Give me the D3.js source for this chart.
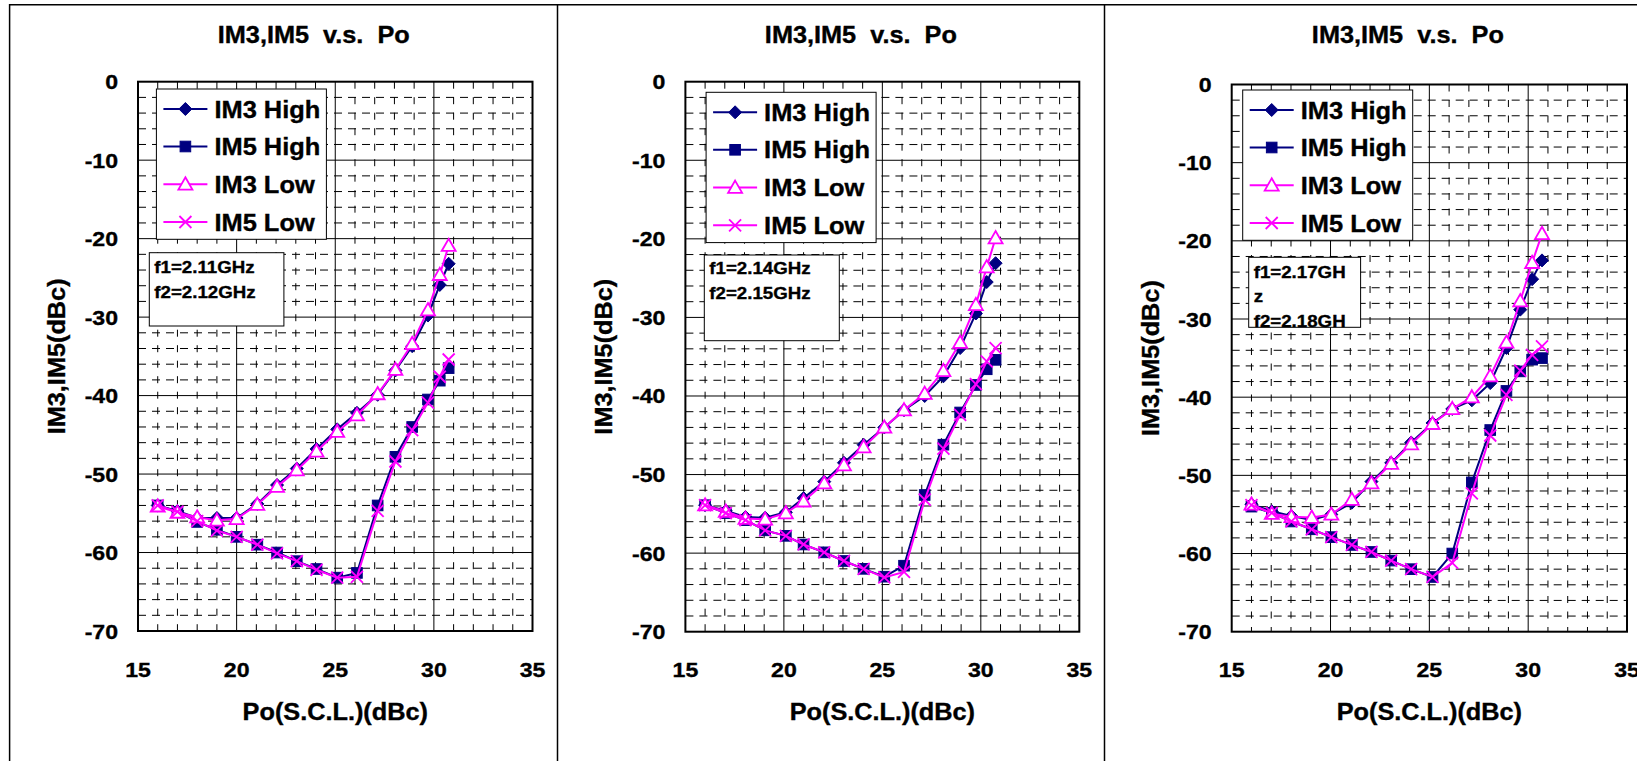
<!DOCTYPE html>
<html><head><meta charset="utf-8">
<script src="https://cdn.jsdelivr.net/npm/d3@7/dist/d3.min.js"></script>
<style>
body{margin:0;background:#fff}
svg{display:block}
text{font-family:"Liberation Sans",Arial,sans-serif;font-weight:bold;fill:#000;stroke:#000;stroke-width:0.35px}
</style></head>
<body><svg id="c" width="1637" height="761"></svg>
<script>
// ---------------- data ----------------
const chartTitle = "IM3,IM5  v.s.  Po";
const xAxisTitle = "Po(S.C.L.)(dBc)";
const yAxisTitle = "IM3,IM5(dBc)";
const seriesNames = ["IM3 High", "IM5 High", "IM3 Low", "IM5 Low"];
const xTicks = [15, 20, 25, 30, 35];
const yTicks = [0, -10, -20, -30, -40, -50, -60, -70];

const freqA = ["f1=2.11GHz", "f2=2.12GHz"];
const freqB = ["f1=2.14GHz", "f2=2.15GHz"];
const freqC = ["f1=2.17GH", "z", "f2=2.18GH"];

const poA    = [16, 17, 18, 19, 20, 21.05, 22.05, 23.05, 24.05, 25.1, 26.1, 27.15, 28.05, 28.9, 29.7, 30.3, 30.75];
const im3HiA = [-54.0, -54.7, -55.6, -55.6, -55.6, -53.8, -51.4, -49.3, -46.8, -44.3, -42.2, -39.9, -36.8, -33.7, -29.8, -25.9, -23.2];
const im5HiA = [-54.0, -54.8, -56.1, -57.1, -58.0, -59.0, -60.0, -61.1, -62.1, -63.2, -62.6, -54.0, -47.8, -44.0, -40.5, -38.1, -36.5];
const im3LoA = [-54.1, -54.9, -55.5, -55.9, -55.7, -53.9, -51.6, -49.5, -47.1, -44.6, -42.5, -39.8, -36.7, -33.4, -29.1, -24.6, -20.9];
const im5LoA = [-54.0, -54.8, -56.0, -57.2, -58.0, -59.0, -60.1, -61.1, -62.2, -63.2, -63.1, -54.7, -48.4, -44.4, -40.9, -37.6, -35.4];

const poB    = [16, 17.05, 18.05, 19.05, 20.1, 21.0, 22.05, 23.05, 24.05, 25.1, 26.1, 27.15, 28.1, 28.95, 29.75, 30.3, 30.75];
const im3HiB = [-53.9, -54.6, -55.4, -55.5, -54.8, -53.0, -50.9, -48.5, -46.2, -44.0, -41.8, -40.0, -37.5, -33.9, -29.5, -25.5, -23.1];
const im5HiB = [-53.9, -54.9, -55.8, -57.1, -57.8, -58.9, -59.9, -61.0, -62.0, -63.0, -61.6, -52.6, -46.2, -42.1, -38.6, -36.6, -35.4];
const im3LoB = [-53.9, -54.7, -55.6, -55.7, -54.9, -53.4, -51.1, -48.8, -46.5, -44.0, -41.8, -39.7, -36.8, -33.2, -28.4, -23.6, -19.9];
const im5LoB = [-53.9, -54.9, -55.8, -57.1, -57.8, -58.9, -59.9, -61.0, -62.0, -63.1, -62.4, -53.2, -46.7, -42.4, -38.5, -35.6, -33.9];

const poC    = [16, 17.03, 18.02, 19.05, 20.04, 21.08, 22.07, 23.07, 24.08, 25.16, 26.16, 27.15, 28.08, 28.9, 29.6, 30.2, 30.7];
const im3HiC = [-53.7, -54.6, -55.2, -55.7, -55.0, -53.5, -50.8, -48.4, -45.8, -43.3, -41.5, -40.4, -38.2, -33.7, -28.8, -24.9, -22.5];
const im5HiC = [-54.0, -54.8, -55.9, -56.9, -57.9, -58.9, -59.8, -60.9, -62.0, -63.0, -60.0, -50.9, -44.2, -39.2, -36.7, -35.2, -35.0];
const im3LoC = [-53.7, -54.9, -55.3, -55.4, -55.0, -53.1, -51.0, -48.5, -46.0, -43.4, -41.5, -40.0, -37.3, -33.0, -27.7, -22.8, -19.1];
const im5LoC = [-53.8, -54.8, -55.9, -56.9, -57.9, -58.9, -59.8, -60.9, -62.0, -63.0, -61.2, -52.3, -44.9, -39.7, -36.6, -34.6, -33.5];

// ---------------- layout ----------------
const NAVY = "#000080", MAG = "#FF00FF";
const panels = [
  {po: poA, s: [im3HiA, im5HiA, im3LoA, im5LoA], freq: freqA,
   plot: {l: 138, r: 532.5, t: 81.7, b: 631}, leg: {x: 156.4, y: 89}, fb: {x: 149.3, y: 252.7, w: 134.6, h: 73.3, dy: [20, 45]}},
  {po: poB, s: [im3HiB, im5HiB, im3LoB, im5LoB], freq: freqB,
   plot: {l: 685.4, r: 1079.3, t: 81.7, b: 631.7}, leg: {x: 706.1, y: 92.3}, fb: {x: 704.3, y: 255, w: 135, h: 85.7, dy: [19, 44]}},
  {po: poC, s: [im3HiC, im5HiC, im3LoC, im5LoC], freq: freqC,
   plot: {l: 1231.7, r: 1627, t: 84.5, b: 631.7}, leg: {x: 1242.7, y: 90}, fb: {x: 1248.7, y: 257.3, w: 111.9, h: 70, dy: [20.4, 44.4, 69.4]}}
];
const seriesStyle = [
  {color: NAVY, marker: "diamond"},
  {color: NAVY, marker: "square"},
  {color: MAG, marker: "triangle"},
  {color: MAG, marker: "x"}
];

const svg = d3.select("#c");

function txt(g, x, y, s, size, anchor, sx, rot) {
  return g.append("text")
    .attr("transform", `translate(${x},${y})${rot ? " rotate(" + rot + ")" : ""} scale(${sx || 1},1)`)
    .attr("font-size", size)
    .attr("text-anchor", anchor || "start")
    .style("white-space", "pre")
    .text(s);
}

function marker(g, type, x, y, color) {
  if (type === "diamond") {
    const r = 6.5;
    g.append("path").attr("d", `M${x},${y - r}L${x + r},${y}L${x},${y + r}L${x - r},${y}Z`)
      .attr("fill", color).attr("stroke", color).attr("stroke-width", 1);
  } else if (type === "square") {
    const r = 5.3;
    g.append("rect").attr("x", x - r).attr("y", y - r).attr("width", 2 * r).attr("height", 2 * r)
      .attr("fill", color).attr("stroke", color).attr("stroke-width", 1);
  } else if (type === "triangle") {
    const r = 7;
    g.append("path").attr("d", `M${x},${y - r}L${x + r},${y + r * 0.75}L${x - r},${y + r * 0.75}Z`)
      .attr("fill", "#fff").attr("stroke", color).attr("stroke-width", 1.8);
  } else {
    const r = 6;
    g.append("path").attr("d", `M${x - r},${y - r}L${x + r},${y + r}M${x - r},${y + r}L${x + r},${y - r}`)
      .attr("fill", "none").attr("stroke", color).attr("stroke-width", 1.8);
  }
}

// outer frames
const frame = svg.append("g").attr("stroke", "#000").attr("stroke-width", 1.5);
frame.append("line").attr("x1", 9).attr("x2", 1637).attr("y1", 4.7).attr("y2", 4.7);
[9.6, 557.5, 1104.5].forEach(x =>
  frame.append("line").attr("x1", x).attr("x2", x).attr("y1", 4).attr("y2", 761));

panels.forEach(p => {
  const g = svg.append("g");
  const x = d3.scaleLinear().domain([15, 35]).range([p.plot.l, p.plot.r]);
  const y = d3.scaleLinear().domain([-70, 0]).range([p.plot.b, p.plot.t]);

  // minor grid
  const minorX = d3.range(16, 35).filter(v => v % 5 !== 0);
  const minorY = d3.range(-68, 0, 2).filter(v => v % 10 !== 0);
  g.append("g").selectAll("line").data(minorY).join("line")
    .attr("x1", x(15)).attr("x2", x(35)).attr("y1", d => y(d)).attr("y2", d => y(d))
    .attr("stroke", "#000").attr("stroke-width", 1).attr("stroke-dasharray", "8,6");
  g.append("g").selectAll("line").data(minorX).join("line")
    .attr("x1", d => x(d)).attr("x2", d => x(d)).attr("y1", y(0)).attr("y2", y(-70))
    .attr("stroke", "#000").attr("stroke-width", 1).attr("stroke-dasharray", "7,8.5");
  // major grid
  g.append("g").selectAll("line").data([20, 25, 30]).join("line")
    .attr("x1", d => x(d)).attr("x2", d => x(d)).attr("y1", y(0)).attr("y2", y(-70))
    .attr("stroke", "#000").attr("stroke-width", 1);
  g.append("g").selectAll("line").data([-10, -20, -30, -40, -50, -60]).join("line")
    .attr("x1", x(15)).attr("x2", x(35)).attr("y1", d => y(d)).attr("y2", d => y(d))
    .attr("stroke", "#000").attr("stroke-width", 1);

  // plot border
  g.append("rect").attr("x", x(15)).attr("y", y(0)).attr("width", x(35) - x(15)).attr("height", y(-70) - y(0))
    .attr("fill", "none").attr("stroke", "#000").attr("stroke-width", 2);

  // axes labels
  yTicks.forEach(v => txt(g, x(15) - 20, y(v) + 7.5, String(v), 21, "end", 1.1));
  xTicks.forEach(v => txt(g, x(v), 677, String(v), 21, "middle", 1.1));
  const cx = (x(15) + x(35)) / 2;
  txt(g, cx - 21.5, 42.5, chartTitle, 23, "middle", 1.1);
  txt(g, cx, 720, xAxisTitle, 23, "middle", 1.1);
  txt(g, x(15) - 73, (y(0) + y(-70)) / 2, yAxisTitle, 23, "middle", 1.1, -90);

  // series
  const line = d3.line().x(d => x(d[0])).y(d => y(d[1]));
  p.s.forEach((vals, i) => {
    const pts = p.po.map((v, k) => [v, vals[k]]);
    const st = seriesStyle[i];
    const sg = g.append("g");
    sg.append("path").attr("d", line(pts)).attr("fill", "none").attr("stroke", st.color).attr("stroke-width", 2);
    pts.forEach(d => marker(sg, st.marker, x(d[0]), y(d[1]), st.color));
  });

  // legend
  const lg = g.append("g");
  lg.append("rect").attr("x", p.leg.x).attr("y", p.leg.y).attr("width", 170).attr("height", 150.3)
    .attr("fill", "#fff").attr("stroke", "#000").attr("stroke-width", 1);
  const rows = [20, 57.5, 95.3, 133];
  seriesNames.forEach((name, i) => {
    const ry = p.leg.y + rows[i];
    const st = seriesStyle[i];
    lg.append("line").attr("x1", p.leg.x + 7).attr("x2", p.leg.x + 51).attr("y1", ry).attr("y2", ry)
      .attr("stroke", st.color).attr("stroke-width", 2);
    marker(lg, st.marker, p.leg.x + 29, ry, st.color);
    txt(lg, p.leg.x + 58, ry + 8.5, name, 24, "start", 1.06);
  });

  // frequency box
  const fg = g.append("g");
  fg.append("rect").attr("x", p.fb.x).attr("y", p.fb.y).attr("width", p.fb.w).attr("height", p.fb.h)
    .attr("fill", "#fff");
  p.freq.forEach((s, i) => txt(fg, p.fb.x + 5, p.fb.y + p.fb.dy[i], s, 17, "start", 1.1));
  fg.append("rect").attr("x", p.fb.x).attr("y", p.fb.y).attr("width", p.fb.w).attr("height", p.fb.h)
    .attr("fill", "none").attr("stroke", "#000").attr("stroke-width", 1);
});
</script>
</body></html>
